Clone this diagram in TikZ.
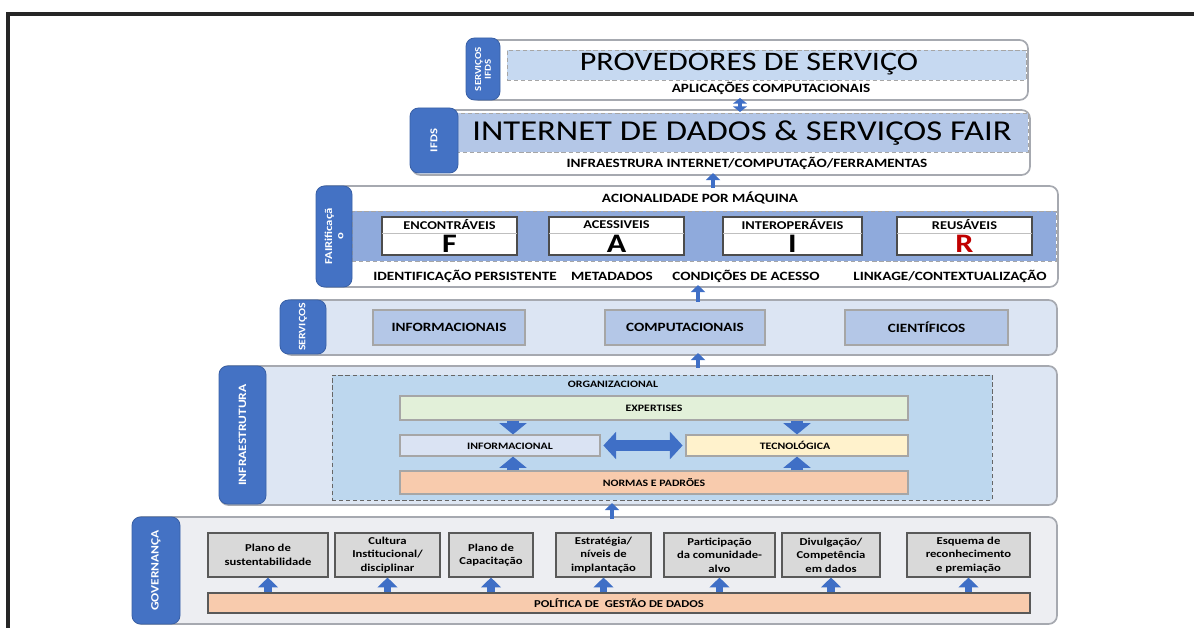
\documentclass[tikz,border=0pt]{standalone}
\usepackage{fontspec}
\setmainfont{Carlito}[FakeStretch=1.2]
\usetikzlibrary{positioning, fit, arrows.meta}

\definecolor{tabblue}{HTML}{4472C4}
\definecolor{arrowblue}{HTML}{3F6FC6}
\definecolor{edgegray}{HTML}{A6A9B0}
\definecolor{bandlight}{HTML}{C6D9F1}
\definecolor{bandmid}{HTML}{B4C7E7}
\definecolor{banddark}{HTML}{8FAADC}
\definecolor{servfill}{HTML}{DCE5F3}
\definecolor{servbox}{HTML}{B4C7E7}
\definecolor{infrafill}{HTML}{DDE6F3}
\definecolor{orgfill}{HTML}{BDD7EE}
\definecolor{greenfill}{HTML}{E2F0D9}
\definecolor{lavfill}{HTML}{DAE3F3}
\definecolor{yellowfill}{HTML}{FFF2CC}
\definecolor{peachfill}{HTML}{F8CBAD}
\definecolor{govfill}{HTML}{EDEEF2}
\definecolor{grayfill}{HTML}{D9D9D9}
\definecolor{fairred}{HTML}{C00000}

\begin{document}
\begin{tikzpicture}[
    x=0.025cm, y=-0.025cm,
    every node/.style={align=center, inner sep=0pt, font=\bfseries\fontsize{8}{9}\selectfont},
    tier/.style={draw=edgegray, line width=1.2pt, rounded corners=6pt},
    tab/.style={fill=tabblue, draw=tabblue!85!black, line width=0.6pt, rounded corners=6pt},
    tablabel/.style={rotate=90, text=white, font=\bfseries\fontsize{7.5}{8}\selectfont},
    band/.style={draw=gray!70, densely dashed, line width=0.5pt},
    cellbox/.style={draw=gray!60!black, line width=0.8pt},
    bigtitle/.style={font=\fontsize{19}{22}\selectfont},
    sublabel/.style={font=\bfseries\fontsize{9}{10}\selectfont},
    linkarrow/.style={draw=arrowblue, line width=3.5pt, -{Triangle[width=10pt,length=5pt]},
        shorten <=-2pt, shorten >=-2pt},
    bigarrow/.style={draw=arrowblue, line width=8pt, -{Triangle[width=19pt,length=8pt]}},
    govarrow/.style={draw=arrowblue, line width=5pt, -{Triangle[width=14pt,length=7pt]}},
    >=Triangle
]
    \useasboundingbox (0,0) rectangle (1194,628);
    \draw[line width=2.2pt, black!85] (8,628) -- (8,14) -- (1194,14);

    \coordinate (axisA) at (740,0);
    \coordinate (axisB) at (713,0);
    \coordinate (axisC) at (698,0);
    \coordinate (axisD) at (612,0);
    \coordinate (axisL) at (513,0);
    \coordinate (axisR) at (797,0);

    % servicos IFDS
    \node[tier, fill=white, fit={(470,40) (1028,100)}] (provtier) {};
    \node[band, fill=bandlight, fit={(507,50) (1026,80)}] (provband) {};
    \node[tab, fit={(466,38) (500,100)}] (provtab) {};
    \node[tablabel, font=\bfseries\fontsize{6.5}{7}\selectfont] (provtabtxt) at (provtab.center) {SERVIÇOS\\IFDS};
    \node[bigtitle] (provtitle) at (749,64) {PROVEDORES DE SERVIÇO};
    \node[sublabel] (provsub) at (771,88) {APLICAÇÕES COMPUTACIONAIS};

    % IFDS
    \node[tier, fill=white, fit={(412,110) (1030,175)}] (ifdstier) {};
    \node[band, fill=bandmid, fit={(456,113) (1028,152)}] (ifdsband) {};
    \node[tab, fit={(410,108) (458,173)}] (ifdstab) {};
    \node[tablabel] (ifdstabtxt) at (ifdstab.center) {IFDS};
    \node[bigtitle, font=\fontsize{20.5}{24}\selectfont] (ifdstitle) at (742,133) {INTERNET DE DADOS \& SERVIÇOS FAIR};
    \node[sublabel] (ifdssub) at (747,163) {INFRAESTRURA INTERNET/COMPUTAÇÃO/FERRAMENTAS};

    % FAIRificacao
    \node[tier, fill=white, fit={(318,186) (1058,287)}] (fairtier) {};
    \node[band, fill=banddark, fit={(352,211) (1056,261)}] (fairband) {};
    \node[tab, fit={(316,186) (352,287)}] (fairtab) {};
    \node[tablabel] (fairtabtxt) at (fairtab.center) {FAIRificaçã\\o};
    \node[sublabel] (fairhead) at (700,198) {ACIONALIDADE POR MÁQUINA};
    \foreach \xa/\xb/\hdr/\ltr/\col [count=\i] in {
        382/517/ENCONTRÁVEIS/F/black,
        549/684/ACESSIVEIS/A/black,
        723/862/INTEROPERÁVEIS/I/black,
        897/1032/REUSÁVEIS/R/fairred}{
        \node[cellbox, fill=white, fit={(\xa,217) (\xb,255)}] (fair\i) {};
        \draw[gray!50, line width=0.6pt] (\xa,233) -- (\xb,233);
        \node[font=\bfseries\fontsize{8.5}{9}\selectfont] (fairhdr\i) at ({(\xa+\xb)/2},225) {\hdr};
        \node[text=\col, font=\bfseries\fontsize{19}{22}\selectfont] (fairltr\i) at ({(\xa+\xb)/2},244) {\ltr};
    }
    \foreach \xc/\txt [count=\i] in {
        465/{IDENTIFICAÇÃO PERSISTENTE},
        612/{METADADOS},
        746/{CONDIÇÕES DE ACESSO},
        950/{LINKAGE/CONTEXTUALIZAÇÃO}}{
        \node[font=\bfseries\fontsize{9}{10}\selectfont] (fairlbl\i) at (\xc,276) {\txt};
    }

    % servicos
    \node[tier, fill=servfill, fit={(283,300) (1057,355)}] (servtier) {};
    \node[tab, fit={(280,300) (326,354)}] (servtab) {};
    \node[tablabel, font=\bfseries\fontsize{7}{8}\selectfont] (servtabtxt) at (servtab.center) {SERVIÇOS};
    \foreach \xa/\xb/\txt [count=\i] in {
        373/525/INFORMACIONAIS,
        605/765/COMPUTACIONAIS,
        845/1008/CIENTÍFICOS}{
        \node[cellbox, fill=servbox, draw=gray!70, fit={(\xa,310) (\xb,345)}] (serv\i) {};
        \node[font=\bfseries\fontsize{9}{10}\selectfont] (servtxt\i) at (serv\i.center) {\txt};
    }

    % infraestrutura
    \node[tier, fill=infrafill, fit={(220,366) (1057,505)}] (infratier) {};
    \node[tab, fit={(219,366) (266,504)}] (infratab) {};
    \node[tablabel, font=\bfseries\fontsize{8}{9}\selectfont] (infratabtxt) at (infratab.center) {INFRAESTRUTURA};
    \node[band, fill=orgfill, draw=gray!80!black, fit={(332,375) (992,500)}] (orgarea) {};
    \node[font=\bfseries\fontsize{7}{8}\selectfont] (orgtxt) at (613,384) {ORGANIZACIONAL};
    \node[cellbox, fill=greenfill, draw=gray!70, fit={(400,396) (908,420)}] (expertises) {};
    \node[cellbox, fill=lavfill, draw=gray!70, fit={(400,435) (600,456)}] (informacional) {};
    \node[cellbox, fill=yellowfill, draw=gray!70, fit={(686,435) (908,456)}] (tecnologica) {};
    \node[cellbox, fill=peachfill, draw=gray!70, fit={(400,471) (908,494)}] (normas) {};
    \node[font=\bfseries\fontsize{7}{8}\selectfont] (experttxt) at (expertises.center) {EXPERTISES};
    \node[font=\bfseries\fontsize{7}{8}\selectfont] (infotxt) at (510,446) {INFORMACIONAL};
    \node[font=\bfseries\fontsize{7}{8}\selectfont] (tecnotxt) at (795,445) {TECNOLÓGICA};
    \node[font=\bfseries\fontsize{7}{8}\selectfont] (normastxt) at (normas.center) {NORMAS E PADRÕES};
    \draw[bigarrow] (expertises.south -| axisL) -- (informacional.north -| axisL);
    \draw[bigarrow] (expertises.south -| axisR) -- (tecnologica.north -| axisR);
    \draw[bigarrow] (normas.north -| axisL) -- (informacional.south -| axisL);
    \draw[bigarrow] (normas.north -| axisR) -- (tecnologica.south -| axisR);
    \draw[bigarrow, {Triangle[width=19pt,length=9pt]}-{Triangle[width=19pt,length=9pt]},
        shorten <=2pt, shorten >=2pt] (informacional.east) -- (tecnologica.west);

    % governanca
    \node[tier, fill=govfill, fit={(133,517) (1057,624)}] (govtier) {};
    \node[tab, fit={(132,517) (180,624)}] (govtab) {};
    \node[tablabel, font=\bfseries\fontsize{8}{9}\selectfont] (govtabtxt) at (govtab.center) {GOVERNANÇA};
    \node[cellbox, fill=peachfill, draw=gray!70!black, fit={(208,593) (1030,613)}] (politica) {};
    \node[font=\bfseries\fontsize{7.5}{8}\selectfont] (politicatxt) at (politica.center) {POLÍTICA DE\ \ GESTÃO DE DADOS};
    \foreach \xa/\xb/\txt [count=\i] in {
        208/328/{Plano de\\sustentabilidade},
        335/440/{Cultura\\Institucional/\\disciplinar},
        449/533/{Plano de\\Capacitação},
        556/651/{Estratégia/\\níveis de\\implantação},
        664/775/{Participação\\da comunidade-\\alvo},
        782/880/{Divulgação/\\Competência\\em dados},
        907/1030/{Esquema de\\reconhecimento\\e premiação}}{
        \node[cellbox, fill=grayfill, draw=gray!70!black, fit={(\xa,533) (\xb,577)}] (gbox\i) {};
        \node[font=\bfseries\fontsize{7.5}{9.5}\selectfont] (gtxt\i) at (gbox\i.center) {\txt};
        \draw[govarrow] (politica.north -| gbox\i.south) -- (gbox\i.south);
    }

    % links between tiers
    \draw[linkarrow, {Triangle[width=10pt,length=4pt]}-{Triangle[width=10pt,length=4pt]}]
        (ifdstier.north -| axisA) -- (provtier.south -| axisA);
    \draw[linkarrow] (fairtier.north -| axisB) -- (ifdstier.south -| axisB);
    \draw[linkarrow] (servtier.north -| axisC) -- (fairtier.south -| axisC);
    \draw[linkarrow] (infratier.north -| axisC) -- (servtier.south -| axisC);
    \draw[linkarrow] (govtier.north -| axisD) -- (infratier.south -| axisD);
\end{tikzpicture}
\end{document}
